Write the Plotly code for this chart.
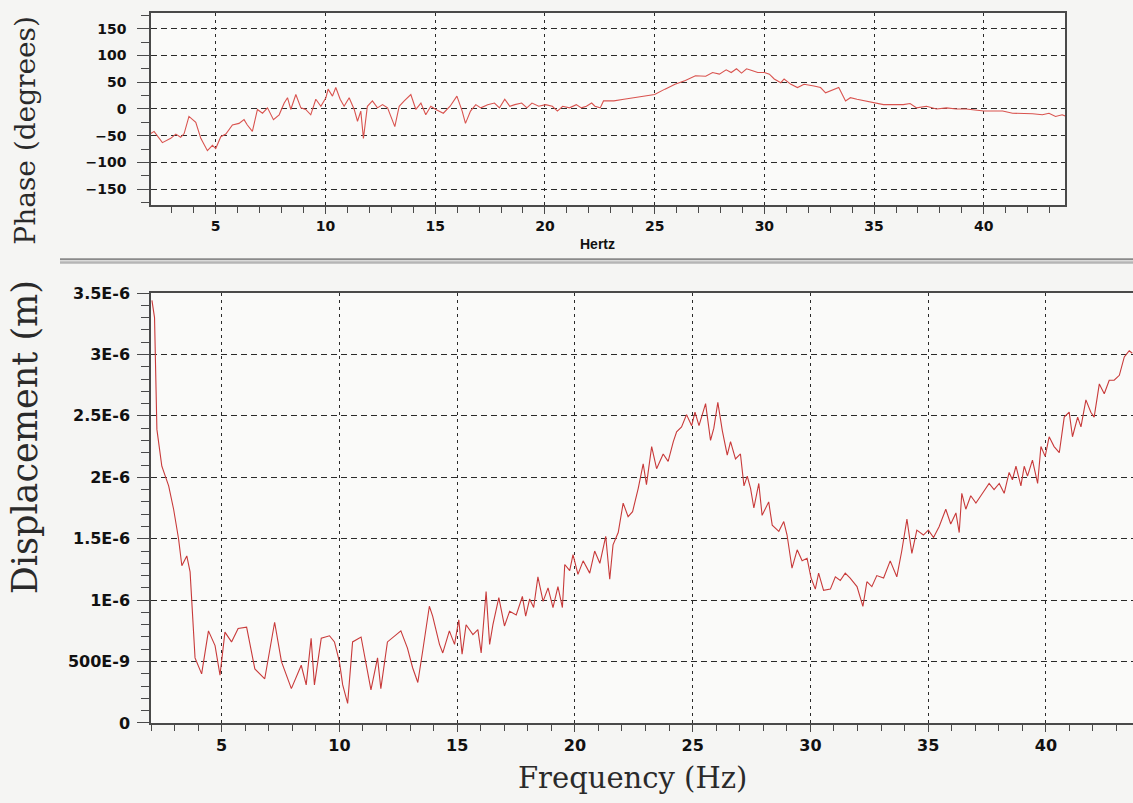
import plotly.graph_objects as go

W, H = 1133, 803

# ---------------- data ----------------
phase_freq = [2.04, 2.19, 2.57, 2.95, 3.18, 3.40, 3.56, 3.78, 4.09, 4.32, 4.62, 4.85, 5.00, 5.23, 5.46,
              5.76, 6.06, 6.29, 6.44, 6.67, 6.90, 7.13, 7.36, 7.63, 7.89, 8.12, 8.27, 8.42, 8.65, 8.88,
              9.10, 9.33, 9.56, 9.79, 10.02, 10.12, 10.32, 10.47, 10.67, 10.85, 11.08, 11.31, 11.46,
              11.61, 11.73, 11.91, 12.14, 12.37, 12.60, 12.83, 13.16, 13.36, 13.59, 13.89, 14.12,
              14.35, 14.57, 14.80, 15.03, 15.37, 15.68, 15.99, 16.23, 16.38, 16.61, 16.85, 17.08,
              17.39, 17.70, 17.93, 18.17, 18.40, 18.63, 18.94, 19.18, 19.41, 19.72, 20.03, 20.34,
              20.57, 20.81, 21.12, 21.43, 21.66, 21.89, 22.13, 22.28, 22.52, 22.67, 23.14, 23.60,
              24.07, 24.53, 25.00, 25.47, 25.93, 26.40, 26.86, 27.33, 27.64, 27.95, 28.26, 28.49,
              28.73, 28.96, 29.19, 29.43, 29.70, 30.00, 30.23, 30.45, 30.75, 30.90, 31.21, 31.51,
              31.81, 32.26, 32.56, 32.79, 33.17, 33.39, 33.70, 33.92, 34.22, 34.60, 34.98, 35.43,
              35.88, 36.33, 36.64, 36.94, 37.39, 37.84, 38.30, 38.75, 39.20, 39.65, 40.00, 40.41,
              40.86, 41.31, 41.76, 42.22, 42.67, 42.97, 43.27, 43.57, 43.70]
phase_deg = [-46, -42, -63, -55, -47, -53, -46, -14, -25, -55, -78, -68, -74, -52, -47,
             -30, -27, -20, -30, -42, -1, -8, 2, -20, -11, 11, 21, -1, 27, 2,
             -1, -11, 18, 5, 21, 37, 24, 40, 18, 5, 21, -1, -23,
             -4, -55, 5, 15, 2, 8, 2, -33, 5, 15, 27, -1,
             11, -11, 5, -1, -8, 5, 24, -4, -27, -4, 8, 2,
             8, 11, 2, 18, 5, 8, 11, 2, 11, 5, 8, 5,
             -4, 5, 2, 8, 2, 5, 11, 5, 2, 15, 15, 18,
             21, 24, 27, 37, 46, 53, 62, 61, 68, 65, 73, 68,
             75, 67, 75, 72, 68, 68, 65, 56, 49, 56, 46, 40,
             46, 43, 40, 30, 37, 40, 15, 21, 18, 15, 11, 8,
             8, 8, 10, 2, 5, 0, 2, 0, 0, -3, -4, -4,
             -4, -8, -8, -9, -11, -8, -14, -11, -13]

disp_freq = [2.04, 2.15, 2.25, 2.46, 2.75, 2.96, 3.17, 3.31, 3.52, 3.66, 3.87, 4.15, 4.44, 4.72, 4.93,
             5.14, 5.42, 5.70, 6.06, 6.41, 6.83, 7.25, 7.54, 7.96, 8.38, 8.59, 8.80, 8.94, 9.23,
             9.58, 9.79, 10.00, 10.14, 10.35, 10.56, 10.92, 11.34, 11.62, 11.76, 12.04, 12.61,
             12.89, 13.11, 13.33, 13.54, 13.82, 13.96, 14.25, 14.39, 14.67, 14.89, 15.07, 15.21,
             15.38, 15.67, 15.88, 16.02, 16.23, 16.38, 16.52, 16.77, 17.01, 17.23, 17.51, 17.77,
             17.91, 18.08, 18.25, 18.43, 18.65, 18.86, 19.07, 19.28, 19.47, 19.57, 19.78, 19.92,
             20.13, 20.35, 20.63, 20.84, 21.06, 21.31, 21.48, 21.62, 21.84, 22.05, 22.26, 22.45,
             22.69, 22.90, 23.04, 23.26, 23.47, 23.75, 23.96, 24.18, 24.32, 24.53, 24.74, 24.96,
             25.10, 25.27, 25.55, 25.76, 25.90, 26.07, 26.26, 26.47, 26.61, 26.82, 27.03, 27.18,
             27.32, 27.46, 27.60, 27.81, 27.95, 28.23, 28.38, 28.66, 28.87, 29.01, 29.22, 29.44,
             29.65, 29.86, 30.03, 30.21, 30.35, 30.56, 30.85, 31.06, 31.27, 31.48, 31.69, 31.98,
             32.23, 32.40, 32.61, 32.82, 33.11, 33.39, 33.67, 33.88, 34.10, 34.31, 34.52, 34.80,
             35.01, 35.23, 35.47, 35.75, 35.96, 36.18, 36.32, 36.43, 36.60, 36.81, 37.03, 37.31,
             37.59, 37.80, 38.02, 38.23, 38.44, 38.58, 38.73, 38.94, 39.08, 39.22, 39.43, 39.65,
             39.79, 39.97, 40.14, 40.35, 40.57, 40.78, 40.99, 41.13, 41.35, 41.49, 41.70, 41.91,
             42.05, 42.27, 42.48, 42.69, 42.90, 43.12, 43.33, 43.54, 43.67]
disp_um = [3.44, 3.30, 2.39, 2.09, 1.93, 1.74, 1.50, 1.28, 1.36, 1.23, 0.53, 0.40, 0.75, 0.63, 0.39,
           0.74, 0.66, 0.77, 0.78, 0.44, 0.36, 0.82, 0.50, 0.28, 0.47, 0.31, 0.69, 0.31, 0.69,
           0.71, 0.66, 0.50, 0.31, 0.16, 0.66, 0.70, 0.27, 0.53, 0.28, 0.66, 0.75,
           0.61, 0.45, 0.33, 0.59, 0.95, 0.87, 0.64, 0.57, 0.75, 0.64, 0.84, 0.56,
           0.80, 0.72, 0.76, 0.57, 1.07, 0.64, 0.80, 1.02, 0.79, 0.91, 0.88, 1.03,
           0.87, 1.01, 0.94, 1.19, 0.99, 1.10, 0.94, 1.11, 0.94, 1.29, 1.24, 1.37,
           1.21, 1.32, 1.22, 1.40, 1.30, 1.52, 1.17, 1.45, 1.55, 1.79, 1.68, 1.72,
           1.91, 2.11, 1.94, 2.25, 2.07, 2.19, 2.13, 2.29, 2.37, 2.41, 2.51, 2.42,
           2.53, 2.42, 2.60, 2.30, 2.40, 2.61, 2.38, 2.18, 2.29, 2.15, 2.19, 1.93,
           2.01, 1.91, 1.75, 1.95, 1.69, 1.80, 1.61, 1.56, 1.64, 1.53, 1.26, 1.41,
           1.32, 1.34, 1.18, 1.09, 1.22, 1.08, 1.09, 1.19, 1.16, 1.22, 1.18, 1.11,
           0.95, 1.15, 1.11, 1.20, 1.18, 1.32, 1.19, 1.40, 1.66, 1.38, 1.57, 1.53,
           1.57, 1.51, 1.60, 1.74, 1.62, 1.71, 1.55, 1.87, 1.74, 1.85, 1.79, 1.87,
           1.95, 1.90, 1.95, 1.87, 2.04, 1.98, 2.09, 1.93, 2.09, 2.01, 2.14, 1.95,
           2.25, 2.17, 2.33, 2.25, 2.20, 2.49, 2.53, 2.33, 2.49, 2.41, 2.63, 2.53,
           2.49, 2.76, 2.68, 2.79, 2.79, 2.83, 2.98, 3.03, 3.01]
disp_m = [v * 1e-6 for v in disp_um]

phase_tickvals = [-150, -100, -50, 0, 50, 100, 150]
freq_tickvals = [5, 10, 15, 20, 25, 30, 35, 40]
disp_tickvals = [0, 0.5e-6, 1.0e-6, 1.5e-6, 2.0e-6, 2.5e-6, 3.0e-6, 3.5e-6]
disp_ticktext = ["0", "500E-9", "1E-6", "1.5E-6", "2E-6", "2.5E-6", "3E-6", "3.5E-6"]

# ---------------- layout helpers ----------------
def px(x):
    return x / W


def py(y):
    return 1 - y / H


TICKFONT_TOP = dict(family="DejaVu Sans", size=14, color="#111111", weight="bold")
TICKFONT_BOT = dict(family="DejaVu Sans", size=16, color="#111111", weight="bold")
SERIF = "DejaVu Serif"
FRAME = "#4a4a4a"
GRIDC = "#2a2a2a"


def minor(dt, ln):
    return dict(tick0=0, dtick=dt, ticks="outside", ticklen=ln, tickcolor=FRAME, showgrid=False)


fig = go.Figure()
fig.add_trace(go.Scatter(x=phase_freq, y=phase_deg, mode="lines",
                         line=dict(color="#d9534f", width=1.1), xaxis="x", yaxis="y",
                         showlegend=False, hoverinfo="skip"))
fig.add_trace(go.Scatter(x=disp_freq, y=disp_m, mode="lines",
                         line=dict(color="#c83a3a", width=1.1), xaxis="x2", yaxis="y2",
                         showlegend=False, hoverinfo="skip"))

fig.update_layout(
    width=W, height=H,
    margin=dict(l=0, r=0, t=0, b=0),
    paper_bgcolor="#f5f5f3",
    plot_bgcolor="#fafaf9",
    xaxis=dict(domain=[px(151), px(1065)], range=[2.05, 43.7], anchor="y", mirror=True,
               tickmode="array", tickvals=freq_tickvals, ticks="outside", ticklen=7,
               tickcolor=FRAME, showline=True, linecolor=FRAME, linewidth=1.5,
               showgrid=True, gridcolor=GRIDC, gridwidth=1, griddash="3px,4px",
               tickfont=TICKFONT_TOP, zeroline=False, minor=minor(1, 6)),
    yaxis=dict(domain=[py(201), py(3.7)], range=[-180, 180], anchor="x", mirror=True,
               tickmode="array", tickvals=phase_tickvals, ticks="outside", ticklen=12,
               tickcolor=FRAME, showline=True, linecolor=FRAME, linewidth=1.5,
               showgrid=True, gridcolor=GRIDC, gridwidth=1, griddash="6px,4px",
               tickfont=TICKFONT_TOP, zeroline=False, ticklabelstandoff=8,
               minor=minor(25, 8)),
    xaxis2=dict(domain=[px(151), 1.0], range=[2.0, 43.7], anchor="y2", mirror=True,
                tickmode="array", tickvals=freq_tickvals, ticks="outside", ticklen=7,
                tickcolor=FRAME, showline=True, linecolor=FRAME, linewidth=1.5,
                showgrid=True, gridcolor=GRIDC, gridwidth=1, griddash="3px,4px",
                tickfont=TICKFONT_BOT, zeroline=False, minor=minor(1, 6)),
    yaxis2=dict(domain=[py(731.3), py(290.9)], range=[0, 3.5e-6], anchor="x2",
                tickmode="array", tickvals=disp_tickvals, ticktext=disp_ticktext,
                ticks="outside", ticklen=12, tickcolor=FRAME, showline=True,
                linecolor=FRAME, linewidth=1.5, showgrid=True, gridcolor=GRIDC,
                gridwidth=1, griddash="6px,4px", tickfont=TICKFONT_BOT, zeroline=False,
                ticklabelstandoff=4, minor=minor(1e-7, 8)),
    shapes=[
        dict(type="line", xref="paper", yref="paper", x0=px(60), x1=1.0,
             y0=py(256.2), y1=py(256.2), line=dict(color="#8a8a8a", width=2)),
        dict(type="line", xref="paper", yref="paper", x0=px(60), x1=1.0,
             y0=py(259.7), y1=py(259.7), line=dict(color="#b5b5b5", width=2.5)),
    ],
    annotations=[
        dict(text="Phase (degrees)", x=px(26), y=py(124.6), xref="paper", yref="paper",
             xanchor="center", yanchor="middle", showarrow=False, textangle=-90,
             font=dict(family=SERIF, size=28, color="#2a2a2a")),
        dict(text="Displacement (m)", x=px(25), y=py(438.6), xref="paper", yref="paper",
             xanchor="center", yanchor="middle", showarrow=False, textangle=-90,
             font=dict(family=SERIF, size=35, color="#2a2a2a")),
        dict(text="Frequency (Hz)", x=px(632), y=py(788), xref="paper", yref="paper",
             xanchor="center", yanchor="middle", showarrow=False,
             font=dict(family=SERIF, size=29, color="#2a2a2a")),
        dict(text="Hertz", x=px(597), y=py(240.4), xref="paper", yref="paper",
             xanchor="center", yanchor="middle", showarrow=False,
             font=dict(family="Liberation Sans, Arial", size=14, color="#111111",
                       weight="bold")),
    ],
)

fig.write_html("out.html")
